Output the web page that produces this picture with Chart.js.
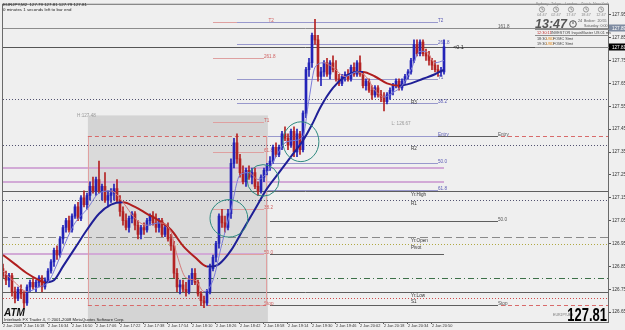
<!DOCTYPE html>
<html>
<head>
<meta charset="utf-8">
<script src="https://cdn.jsdelivr.net/npm/chart.js@4.4.0/dist/chart.umd.min.js"></script>
<style>
html, body { margin: 0; padding: 0; background: #efefef; }
canvas { display: block; }
</style>
</head>
<body>
<canvas id="myChart" width="625" height="330"></canvas>
<script>
// EURJPY, 2 minute bars, 2 Jan 2009 - bar 0 is 16:04
const opens = [126.84,126.81,126.79,126.81,126.74,126.71,126.75,126.73,126.69,126.76,126.78,126.76,126.78,126.80,126.76,126.79,126.83,126.87,126.92,126.90,
  126.97,127.02,127.05,127.01,127.07,127.11,127.06,127.15,127.12,127.16,127.20,127.18,127.23,127.18,127.20,127.14,127.16,127.17,127.19,127.14,
  127.09,127.05,127.02,127.06,127.08,127.03,126.99,127.02,127.01,127.05,127.07,127.04,127.02,127.05,126.99,127.02,126.97,126.94,126.82,126.76,
  126.77,126.75,126.74,126.79,126.82,126.78,126.73,126.70,126.69,126.74,126.84,126.89,126.95,127.07,127.04,127.02,127.08,127.30,127.39,127.32,
  127.26,127.22,127.27,127.24,127.26,127.20,127.18,127.24,127.27,127.29,127.31,127.37,127.34,127.37,127.43,127.41,127.38,127.44,127.35,127.43,
  127.36,127.52,127.71,127.74,127.86,127.84,127.68,127.70,127.74,127.69,127.74,127.71,127.67,127.65,127.68,127.69,127.67,127.72,127.69,127.74,
  127.69,127.64,127.66,127.62,127.60,127.63,127.60,127.59,127.57,127.60,127.62,127.64,127.66,127.63,127.66,127.68,127.70,127.75,127.82,127.78,
  127.83,127.78,127.77,127.75,127.73,127.71,127.70,127.70];
const highs = [126.86,126.83,126.82,126.82,126.76,126.76,126.77,126.74,126.77,126.79,126.80,126.79,126.81,126.81,126.80,126.84,126.88,126.93,126.94,126.98,
  127.03,127.06,127.07,127.08,127.12,127.13,127.16,127.18,127.17,127.22,127.24,127.24,127.31,127.21,127.26,127.18,127.19,127.21,127.23,127.16,
  127.11,127.08,127.07,127.09,127.09,127.05,127.03,127.04,127.06,127.08,127.09,127.08,127.06,127.06,127.03,127.04,126.99,126.96,126.84,126.79,
  126.79,126.78,126.81,126.84,126.84,126.79,126.74,126.72,126.75,126.86,126.90,126.96,127.08,127.10,127.07,127.10,127.32,127.41,127.43,127.34,
  127.29,127.28,127.29,127.28,127.28,127.22,127.25,127.28,127.30,127.33,127.38,127.39,127.38,127.44,127.46,127.43,127.45,127.46,127.45,127.44,
  127.53,127.72,127.76,127.87,127.93,127.86,127.72,127.75,127.76,127.75,127.77,127.75,127.69,127.69,127.70,127.71,127.73,127.74,127.75,127.77,
  127.70,127.67,127.67,127.64,127.64,127.64,127.62,127.61,127.61,127.63,127.65,127.67,127.67,127.67,127.69,127.71,127.76,127.84,127.84,127.84,
  127.84,127.80,127.79,127.76,127.75,127.73,127.72,127.84];
const lows = [126.80,126.77,126.76,126.72,126.69,126.70,126.71,126.67,126.68,126.74,126.75,126.74,126.76,126.74,126.75,126.78,126.82,126.85,126.88,126.89,
  126.95,127.00,127.00,127.00,127.06,127.05,127.05,127.11,127.10,127.14,127.17,127.16,127.17,127.14,127.13,127.11,127.13,127.14,127.13,127.07,
  127.03,127.01,127.00,127.04,127.01,126.97,126.97,126.99,127.00,127.03,127.03,127.00,127.00,126.98,126.98,126.96,126.92,126.80,126.74,126.73,
  126.74,126.72,126.73,126.77,126.77,126.72,126.68,126.67,126.68,126.73,126.83,126.87,126.93,127.02,127.00,127.01,127.06,127.28,127.30,127.24,
  127.21,127.20,127.23,127.21,127.19,127.16,127.17,127.22,127.25,127.27,127.30,127.33,127.33,127.36,127.40,127.36,127.37,127.33,127.33,127.34,
  127.35,127.50,127.68,127.72,127.82,127.66,127.64,127.68,127.68,127.67,127.70,127.66,127.64,127.64,127.66,127.66,127.66,127.68,127.68,127.68,
  127.63,127.62,127.61,127.58,127.59,127.59,127.57,127.53,127.56,127.58,127.60,127.63,127.62,127.62,127.65,127.67,127.69,127.74,127.77,127.77,
  127.77,127.75,127.73,127.71,127.70,127.68,127.68,127.69];
const closes = [126.81,126.79,126.81,126.74,126.71,126.75,126.73,126.69,126.76,126.78,126.76,126.78,126.80,126.76,126.79,126.83,126.87,126.92,126.90,126.97,
  127.02,127.05,127.01,127.07,127.11,127.06,127.15,127.12,127.16,127.20,127.18,127.23,127.18,127.20,127.14,127.16,127.17,127.19,127.14,127.09,
  127.05,127.02,127.06,127.08,127.03,126.99,127.02,127.01,127.05,127.07,127.04,127.02,127.05,126.99,127.02,126.97,126.94,126.82,126.76,126.77,
  126.75,126.74,126.79,126.82,126.78,126.73,126.70,126.69,126.74,126.84,126.89,126.95,127.07,127.04,127.02,127.08,127.30,127.39,127.32,127.26,
  127.22,127.27,127.24,127.26,127.20,127.18,127.24,127.27,127.29,127.31,127.37,127.34,127.37,127.43,127.41,127.38,127.44,127.35,127.43,127.36,
  127.52,127.71,127.74,127.86,127.84,127.68,127.70,127.74,127.69,127.74,127.71,127.67,127.65,127.68,127.69,127.67,127.72,127.69,127.74,127.69,
  127.64,127.66,127.62,127.60,127.63,127.60,127.59,127.57,127.60,127.62,127.64,127.66,127.63,127.66,127.68,127.70,127.75,127.82,127.78,127.83,
  127.78,127.77,127.75,127.73,127.71,127.70,127.70,127.81];

// slow moving average (thick)
const slowMaBars   = [0, 4, 8, 12, 14, 17, 20, 24, 28, 32, 36, 40, 44, 48, 52, 56, 60, 64, 68, 70, 72, 76, 80, 84, 88, 92, 96, 100, 103, 106, 110, 114, 118, 120, 124, 128, 132, 136, 140, 144, 147];
const slowMaValues = [126.90,126.86,126.82,126.79,126.78,126.79,126.85,126.93,127.01,127.08,127.12,127.13,127.11,127.08,127.05,127.01,126.94,126.89,126.85,126.85,126.86,126.92,127.01,127.10,127.19,127.26,127.33,127.40,127.47,127.55,127.63,127.68,127.70,127.70,127.68,127.65,127.64,127.65,127.67,127.69,127.71];
// fast moving average (thin)
const fastMaBars   = [0, 4, 8, 12, 15, 18, 21, 24, 28, 32, 36, 40, 44, 48, 52, 56, 58, 61, 64, 67, 70, 73, 76, 79, 82, 85, 88, 91, 94, 97, 100, 102, 104, 107, 110, 114, 118, 121, 124, 127, 130, 133, 136, 139, 141, 144, 147];
const fastMaValues = [126.83,126.78,126.74,126.76,126.78,126.86,126.96,127.04,127.10,127.17,127.18,127.13,127.06,127.03,127.04,127.00,126.90,126.80,126.79,126.74,126.79,126.95,127.10,127.25,127.26,127.23,127.26,127.33,127.39,127.40,127.42,127.58,127.72,127.74,127.72,127.68,127.70,127.68,127.62,127.59,127.61,127.64,127.71,127.79,127.79,127.74,127.75];

// price axis and time axis labels
const yTicks = [126.65,126.75,126.85,126.95,127.05,127.15,127.25,127.35,127.45,127.55,127.65,127.75,127.85,127.95];
const xTickBars = [0, 7, 15, 23, 31, 39, 47, 55, 63, 71, 79, 87, 95, 103, 111, 119, 127, 135, 143];
const xTickLabels = ['2 Jan 2009','2 Jan 16:18','2 Jan 16:34','2 Jan 16:50','2 Jan 17:06','2 Jan 17:22','2 Jan 17:38','2 Jan 17:54','2 Jan 18:10',
  '2 Jan 18:26','2 Jan 18:42','2 Jan 18:58','2 Jan 19:14','2 Jan 19:30','2 Jan 19:46','2 Jan 20:02','2 Jan 20:18','2 Jan 20:34','2 Jan 20:50'];

const bidPrice = 127.81;
const askLevel = 127.89;

// horizontal objects: [price, fromBar, toBar, style, label, labelBar]
const underBoxLevels = [
  [127.42, 89, 203, 'redDash', ''],
  [126.68, 89, 203, 'redDash', ''],
  [127.42, 89, 165, 'dark', 'Entry'],
  [127.05, 89, 165, 'dark', '50.0'],
  [126.68, 89, 165, 'dark', 'Stop'],
  [126.905, 89, 147, 'dark', ''],
  [127.92, 78, 145, 'lav', 'T2'],
  [127.82, 78, 145, 'lav', '261.8'],
  [127.67, 78, 145, 'lav', 'T1'],
  [127.565, 78, 145, 'lav', '38.2'],
  [127.42, 78, 145, 'lav', 'Entry'],
  [127.30, 78, 145, 'lav', '50.0'],
  [127.185, 78, 145, 'lav', '61.8']
];
const overBoxLevels = [
  [127.89, -1, 203, 'grey', ''],
  [bidPrice, -1, 203, 'bid', ''],
  [127.28, 0, 147, 'violet', ''],
  [127.22, 0, 147, 'violet', ''],
  [126.905, 0, 87, 'violet', ''],
  [127.18, -1, 203, 'dark', ''],
  [127.58, -1, 203, 'dotDark', ''],
  [127.38, -1, 203, 'dotDark', ''],
  [127.14, -1, 203, 'dotDark', ''],
  [126.98, -1, 203, 'longDash', ''],
  [126.95, -1, 203, 'dotOlive', ''],
  [126.80, -1, 203, 'dashDot', ''],
  [126.74, -1, 203, 'dark', ''],
  [126.71, -1, 203, 'dotRed', ''],
  [127.92, 70, 78, 'pink', 'T2', 88.5],
  [127.76, 70, 87, 'pink', '261.8'],
  [127.48, 70, 87, 'pink', 'T1'],
  [127.35, 70, 87, 'pink', '61.8'],
  [127.10, 70, 87, 'pink', '38.2'],
  [126.905, 70, 87, 'pink', '50.0'],
  [126.68, 70, 87, 'pink', 'Stop']
];
const farLabels = [[127.89, 165, 'dark', '161.8']];
// pivot names sit under their lines
const pivotNames = [[127.58, 'R3'], [127.38, 'R2'], [127.18, 'Yr.High'], [127.14, 'R1'], [126.98, 'Yr.Open'], [126.95, 'Pivot'], [126.74, 'Yr.Low'], [126.71, 'S1']];
const pivotBar = 136;

// session box (17:00 - 19:00) and trade rectangle
const sessionBox = { fromBar: 28.3, toBar: 88.3, top: 127.51 };
const tradeBox = { fromBar: 28.3, toBar: 87.7, entry: 127.42, stop: 126.68 };
// hand drawn ellipses: [centerBar, centerPrice, radiusBars, radiusPrice]
const ellipses = [[75.3, 127.06, 6.3, 0.082], [86.7, 127.226, 5.3, 0.069], [99.3, 127.395, 6.0, 0.087]];

const FONT = '"Liberation Sans", Arial, sans-serif';
const UP = '#2323b8';
const DOWN = '#b42323';

const lineStyles = {
  grey:     { color: '#8c8c8c', width: 1, dash: [], text: '#555' },
  bid:      { color: '#555555', width: 1, dash: [] },
  pink:     { color: '#dea0a0', width: 1, dash: [], text: '#d06060' },
  lav:      { color: '#9898cc', width: 1, dash: [], text: '#5a5ab4' },
  dark:     { color: '#5e5e5e', width: 1, dash: [], text: '#555' },
  violet:   { color: '#d2aad6', width: 2, dash: [] },
  dotDark:  { color: '#50506e', width: 1, dash: [1, 2] },
  dotRed:   { color: '#d04848', width: 1, dash: [1, 2] },
  dotOlive: { color: '#b0a840', width: 1, dash: [1, 2] },
  longDash: { color: '#8a8a8a', width: 1, dash: [8, 4] },
  dashDot:  { color: '#3c7048', width: 1, dash: [6, 3, 1, 3] },
  redDash:  { color: '#d86a6a', width: 1, dash: [4, 3] }
};

function txt(ctx, s, x, y, size, color, align, extra) {
  ctx.save();
  ctx.font = (extra || '') + ' ' + size + 'px ' + FONT;
  ctx.fillStyle = color;
  ctx.textAlign = align || 'left';
  ctx.textBaseline = 'alphabetic';
  ctx.fillText(s, x, y);
  ctx.restore();
}

function drawLevels(chart, list) {
  const ctx = chart.ctx;
  const xs = chart.scales.x, ys = chart.scales.y;
  list.forEach(([price, from, to, style, label, labelBar]) => {
    const st = lineStyles[style];
    const y = Math.round(ys.getPixelForValue(price)) + (st.width % 2 ? 0.5 : 0);
    ctx.save();
    ctx.strokeStyle = st.color;
    ctx.lineWidth = st.width;
    ctx.setLineDash(st.dash);
    ctx.beginPath();
    ctx.moveTo(xs.getPixelForValue(from), y);
    ctx.lineTo(xs.getPixelForValue(to), y);
    ctx.stroke();
    ctx.restore();
    if (label) {
      txt(ctx, label, xs.getPixelForValue(labelBar === undefined ? to : labelBar), y - 1, 4.6, st.text);
    }
  });
}

const chartDecor = {
  id: 'chartDecor',
  beforeDraw(chart) {
    const ctx = chart.ctx;
    ctx.save();
    ctx.fillStyle = '#efefef';
    ctx.fillRect(0, 0, chart.width, chart.height);
    ctx.restore();
  },
  beforeDatasetsDraw(chart) {
    const ctx = chart.ctx;
    const a = chart.chartArea;
    const xs = chart.scales.x, ys = chart.scales.y;
    ctx.save();
    ctx.beginPath();
    ctx.rect(a.left, a.top, a.right - a.left, a.bottom - a.top);
    ctx.clip();

    drawLevels(chart, underBoxLevels);

    // session box
    const bx1 = xs.getPixelForValue(sessionBox.fromBar), bx2 = xs.getPixelForValue(sessionBox.toBar);
    const by1 = ys.getPixelForValue(sessionBox.top);
    ctx.fillStyle = '#d4d4d4';
    ctx.fillRect(bx1, by1, bx2 - bx1, a.bottom - by1);
    const ty1 = ys.getPixelForValue(tradeBox.entry), ty2 = ys.getPixelForValue(tradeBox.stop);
    const tx2 = xs.getPixelForValue(tradeBox.toBar);
    ctx.fillStyle = '#dadada';
    ctx.fillRect(bx1, ty1, tx2 - bx1, ty2 - ty1);

    drawLevels(chart, overBoxLevels);

    // trade rectangle
    ctx.strokeStyle = '#e0a0a0';
    ctx.lineWidth = 1;
    ctx.beginPath();
    ctx.moveTo(Math.round(bx1) + 0.5, ty1); ctx.lineTo(Math.round(bx1) + 0.5, ty2);
    ctx.moveTo(Math.round(tx2) + 0.5, ty1); ctx.lineTo(Math.round(tx2) + 0.5, ty2);
    ctx.stroke();
    ctx.strokeStyle = '#d86a6a';
    ctx.setLineDash([4, 3]);
    ctx.beginPath();
    ctx.moveTo(bx1, Math.round(ty1) + 0.5); ctx.lineTo(tx2, Math.round(ty1) + 0.5);
    ctx.moveTo(bx1, Math.round(ty2) + 0.5); ctx.lineTo(tx2, Math.round(ty2) + 0.5);
    ctx.stroke();
    ctx.setLineDash([]);

    farLabels.forEach(([price, bar, style, label]) => {
      txt(ctx, label, xs.getPixelForValue(bar), Math.round(ys.getPixelForValue(price)) - 0.5, 4.6, lineStyles[style].text);
    });
    pivotNames.forEach(([price, label]) => {
      txt(ctx, label, xs.getPixelForValue(pivotBar), ys.getPixelForValue(price) + 5, 4.6, '#333');
    });
    txt(ctx, 'H:127.48', xs.getPixelForValue(24.7), ys.getPixelForValue(sessionBox.top) + 2, 4.6, '#9a9a9a');
    txt(ctx, 'L: 126.67', xs.getPixelForValue(129.5), ys.getPixelForValue(127.47), 4.6, '#9a9a9a');
    txt(ctx, '<0.1', xs.getPixelForValue(150), ys.getPixelForValue(bidPrice) + 2, 5.5, '#222');
    ctx.restore();
  },
  afterDatasetsDraw(chart) {
    const ctx = chart.ctx;
    const xs = chart.scales.x, ys = chart.scales.y;
    ctx.save();
    ctx.strokeStyle = '#2f8a80';
    ctx.lineWidth = 1;
    ellipses.forEach(([b, p, rb, rp]) => {
      const cx = xs.getPixelForValue(b), cy = ys.getPixelForValue(p);
      const rx = xs.getPixelForValue(b + rb) - cx, ry = cy - ys.getPixelForValue(p + rp);
      ctx.beginPath();
      ctx.ellipse(cx, cy, rx, ry, 0, 0, Math.PI * 2);
      ctx.stroke();
    });
    ctx.restore();
  },
  afterDraw(chart) {
    const ctx = chart.ctx;
    const a = chart.chartArea;
    const ys = chart.scales.y;
    ctx.save();
    // frame
    ctx.strokeStyle = '#6a6a6a';
    ctx.lineWidth = 1;
    ctx.strokeRect(a.left + 0.5, a.top + 0.5, a.right - a.left - 1, a.bottom - a.top);

    // header
    txt(ctx, 'EURJPY,M2  127.79 127.81 127.79 127.81', 3, 6, 4.4, '#222');
    txt(ctx, '0 minutes 1 seconds left to bar end', 3, 10.5, 4.4, '#222');

    // clocks panel
    const cities = [['Sydney', 542, '04:47'], ['Tokyo', 556, '02:47'], ['London', 571, '17:47'], ['Zürich', 586, '18:47'], ['New York', 601, '12:47']];
    cities.forEach(([name, x, t]) => {
      txt(ctx, name, x, 5, 3.8, '#8a8a8a', 'center');
      ctx.strokeStyle = '#9a9a9a';
      ctx.beginPath(); ctx.arc(x, 9.5, 2.6, 0, Math.PI * 2); ctx.stroke();
      ctx.beginPath(); ctx.moveTo(x, 9.5); ctx.lineTo(x, 7.5); ctx.moveTo(x, 9.5); ctx.lineTo(x + 1.5, 10); ctx.stroke();
      txt(ctx, t, x, 16, 3.8, '#8a8a8a', 'center');
    });
    txt(ctx, '13:47', 535, 28, 12.5, '#555', 'left', 'italic bold');
    ctx.strokeStyle = '#555';
    ctx.beginPath(); ctx.arc(573, 24, 3.3, 0, Math.PI * 2); ctx.stroke();
    ctx.beginPath(); ctx.moveTo(573, 24); ctx.lineTo(573, 21.5); ctx.stroke();
    txt(ctx, '24', 578, 22, 3.8, '#555');
    txt(ctx, 'Broker:  20:55', 584, 22, 3.6, '#555');
    txt(ctx, 'Saturday: 0:00', 584, 27, 3.6, '#555');
    ctx.strokeStyle = '#8a8a8a';
    ctx.beginPath();
    ctx.moveTo(535, 29.5); ctx.lineTo(a.right, 29.5);
    ctx.moveTo(535, 35.5); ctx.lineTo(a.right, 35.5);
    ctx.moveTo(535, 47.5); ctx.lineTo(a.right, 47.5);
    ctx.stroke();
    txt(ctx, '12:30:11', 537, 34, 3.8, '#c03030');
    txt(ctx, 'INVESTOR InquisMaster US 01 ms', 551, 34, 3.8, '#444');
    txt(ctx, '18:30', 537, 40, 3.8, '#444');
    txt(ctx, 'USD', 546, 40, 3.8, '#e08a20');
    txt(ctx, 'FOMC Stmt', 553, 40, 3.8, '#444');
    txt(ctx, '19:30', 537, 45, 3.8, '#444');
    txt(ctx, 'USD', 546, 45, 3.8, '#e08a20');
    txt(ctx, 'FOMC Stmt', 553, 45, 3.8, '#444');

    // bottom left
    txt(ctx, 'ATM', 4, 316, 10, '#111', 'left', 'italic bold');
    txt(ctx, 'Interbank FX Trader 4, \u00a9 2001-2008 MetaQuotes Software Corp.', 4, 321, 4.2, '#222');

    // big price
    txt(ctx, 'EURJPY-Bid', 553, 316, 3.6, '#777');
    ctx.save();
    ctx.translate(607, 321);
    ctx.scale(0.72, 1);
    txt(ctx, '127.81', 0, 0, 18, '#000', 'right', 'bold');
    ctx.restore();

    // price labels on the axis
    [[askLevel, '#7f8ca2'], [bidPrice, '#000']].forEach(([p, bg]) => {
      const y = Math.round(ys.getPixelForValue(p));
      ctx.fillStyle = bg;
      ctx.fillRect(a.right, y - 3.5, chart.width - a.right, 7);
      txt(ctx, p.toFixed(2), a.right + 3, y + 1.8, 4.6, '#fff');
    });
    ctx.restore();
  }
};

const barIdx = opens.map((o, i) => i);
const candleColor = ctx => closes[ctx.dataIndex] >= opens[ctx.dataIndex] ? UP : DOWN;
const slopeColor = (up, down) => ctx => ctx.p1.parsed.y >= ctx.p0.parsed.y ? up : down;

const config = {
  type: 'bar',
  data: {
    datasets: [
      {
        type: 'line',
        label: 'fast',
        data: fastMaBars.map((b, i) => ({ x: b, y: fastMaValues[i] })),
        borderColor: '#7b7bd8',
        borderWidth: 1,
        pointRadius: 0,
        cubicInterpolationMode: 'monotone',
        segment: { borderColor: slopeColor('#7b7bd8', '#d47a7a') },
        order: 0
      },
      {
        type: 'line',
        label: 'slow',
        data: slowMaBars.map((b, i) => ({ x: b, y: slowMaValues[i] })),
        borderColor: '#1f1f96',
        borderWidth: 2,
        pointRadius: 0,
        cubicInterpolationMode: 'monotone',
        segment: { borderColor: slopeColor('#1f1f96', '#b01e1e') },
        order: 1
      },
      {
        label: 'body',
        data: barIdx.map(i => ({ x: i, y: [opens[i], closes[i]] })),
        backgroundColor: candleColor,
        barThickness: 2,
        minBarLength: 1,
        grouped: false,
        order: 2
      },
      {
        label: 'wick',
        data: barIdx.map(i => ({ x: i, y: [lows[i], highs[i]] })),
        backgroundColor: candleColor,
        barThickness: 1,
        grouped: false,
        order: 3
      }
    ]
  },
  options: {
    responsive: false,
    maintainAspectRatio: false,
    devicePixelRatio: 1,
    animation: false,
    layout: { padding: { top: 1, left: 2, right: 0, bottom: 0 } },
    plugins: { legend: { display: false }, tooltip: { enabled: false } },
    scales: {
      x: {
        type: 'linear',
        min: -0.33,
        max: 202,
        offset: false,
        grid: { drawOnChartArea: false, drawTicks: true, tickLength: 2, color: '#555', offset: false },
        border: { display: false },
        afterBuildTicks: s => { s.ticks = xTickBars.map(v => ({ value: v })); },
        afterFit: s => { s.height = 8; },
        ticks: {
          align: 'start',
          maxRotation: 0,
          autoSkip: false,
          padding: 0,
          color: '#333',
          font: { size: 3.9, family: FONT },
          callback: (v, i) => xTickLabels[i]
        }
      },
      y: {
        position: 'right',
        min: 126.607,
        max: 127.998,
        grid: { drawOnChartArea: false, drawTicks: true, tickLength: 2, color: '#555' },
        border: { display: false },
        afterBuildTicks: s => { s.ticks = yTicks.map(v => ({ value: v })); },
        afterFit: s => { s.width = 16; },
        ticks: {
          padding: 1,
          crossAlign: 'near',
          color: '#333',
          font: { size: 4.6, family: FONT },
          callback: v => v.toFixed(2)
        }
      }
    }
  },
  plugins: [chartDecor]
};

const myChart = document.getElementById('myChart');
const chart = new Chart(myChart, config);
</script>
</body>
</html>
